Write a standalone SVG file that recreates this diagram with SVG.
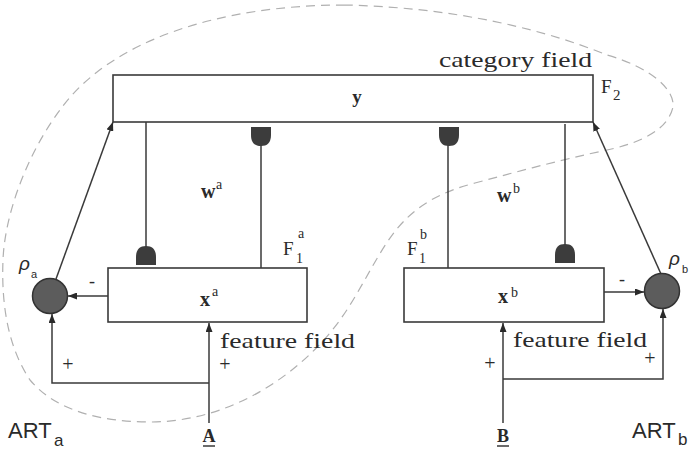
<svg xmlns="http://www.w3.org/2000/svg" width="691" height="451" viewBox="0 0 691 451">
<style>
.ln{stroke:#3a3a3a;stroke-width:1.5;fill:none}
.box{stroke:#3a3a3a;stroke-width:1.6;fill:#fff}
.t{font-family:"Liberation Serif","Times New Roman",serif;fill:#2a2a2a}
.b{font-weight:bold}
.s{font-family:"Liberation Sans",Arial,sans-serif;fill:#2a2a2a}
.dome{fill:#3c3c3c}
.node{fill:#5c5c5c;stroke:#333;stroke-width:1.5}
.dash{fill:none;stroke:#b0b0b0;stroke-width:1.2;stroke-dasharray:9 6}
</style>
<defs>
<marker id="arr" markerUnits="userSpaceOnUse" markerWidth="9" markerHeight="7" refX="9" refY="3.5" orient="auto">
<path d="M0,0 L9,3.5 L0,7 z" fill="#2a2a2a"/>
</marker>
<path id="dome" d="M-10,0 V-8 C-10,-16 -6,-19 0,-19 C6,-19 10,-16 10,-8 V0 Z"/>
</defs>
<path class="dash" d="M345,5 C220,5 110,40 60,110 C30,150 5,210 3,260 C1,310 10,350 30,380 C55,410 100,422 150,422 C230,422 300,375 340,320 C365,285 380,245 405,220 C420,205 440,192 475,183 C520,171 560,160 607,150 C640,143 668,130 673,107 C675,90 652,68 607,55 C570,40 480,8 345,5 Z"/>
<g id="connectors">
<path class="ln" d="M209,423 V323" marker-end="url(#arr)"/>
<path class="ln" d="M209,383 H52 V314" marker-end="url(#arr)"/>
<path class="ln" d="M503,423 V323" marker-end="url(#arr)"/>
<path class="ln" d="M503,379 H663 V309" marker-end="url(#arr)"/>
<path class="ln" d="M108,296 H68" marker-end="url(#arr)"/>
<path class="ln" d="M604,292 H644" marker-end="url(#arr)"/>
<path class="ln" d="M56,279 L113,122" marker-end="url(#arr)"/>
<path class="ln" d="M661,274 L593,122" marker-end="url(#arr)"/>
<path class="ln" d="M146,122 V247"/>
<path class="ln" d="M261,268 V145"/>
<path class="ln" d="M448,268 V145"/>
<path class="ln" d="M565,124 V245"/>
<use href="#dome" class="dome" transform="translate(146,265)"/>
<use href="#dome" class="dome" transform="translate(261,127) scale(1,-1)"/>
<use href="#dome" class="dome" transform="translate(449,127) scale(1,-1)"/>
<use href="#dome" class="dome" transform="translate(565,263)"/>
<text class="t" x="92" y="287" font-size="18" text-anchor="middle">-</text>
<text class="t" x="622" y="285" font-size="18" text-anchor="middle">-</text>
<text class="t" x="68" y="371" font-size="20" text-anchor="middle">+</text>
<text class="t" x="225" y="371" font-size="20" text-anchor="middle">+</text>
<text class="t" x="490" y="370" font-size="20" text-anchor="middle">+</text>
<text class="t" x="650" y="365" font-size="20" text-anchor="middle">+</text>
<text class="t b" x="201" y="198" font-size="20">w</text>
<text class="t" x="216" y="189" font-size="14">a</text>
<text class="t b" x="497" y="202" font-size="20">w</text>
<text class="t" x="513" y="193" font-size="14">b</text>
</g>
<g id="F2">
<rect class="box" x="113" y="75" width="480" height="47"/>
<text class="t b" x="357" y="103" font-size="19" text-anchor="middle">y</text>
<text class="t" x="439" y="67" font-size="22" textLength="153" lengthAdjust="spacingAndGlyphs">category field</text>
<text class="t" x="601" y="93" font-size="19">F</text>
<text class="t" x="613" y="100" font-size="15">2</text>
</g>
<g id="F1a">
<rect class="box" x="108" y="268" width="199" height="54"/>
<text class="t b" x="200" y="306" font-size="20">x</text>
<text class="t" x="212" y="296" font-size="14">a</text>
<text class="t" x="283" y="255" font-size="19">F</text>
<text class="t" x="296" y="263" font-size="14">1</text>
<text class="t" x="298" y="238" font-size="14">a</text>
<text class="t" x="220" y="348" font-size="22" textLength="135" lengthAdjust="spacingAndGlyphs">feature field</text>
</g>
<g id="F1b">
<rect class="box" x="404" y="268" width="200" height="54"/>
<text class="t b" x="498" y="303" font-size="20">x</text>
<text class="t" x="511" y="297" font-size="14">b</text>
<text class="t" x="407" y="255" font-size="19">F</text>
<text class="t" x="419" y="263" font-size="14">1</text>
<text class="t" x="420" y="239" font-size="14">b</text>
<text class="t" x="513" y="347" font-size="22" textLength="134" lengthAdjust="spacingAndGlyphs">feature field</text>
</g>
<g id="rho_a">
<circle class="node" cx="50" cy="296" r="17.5"/>
<text class="s" x="19" y="270" font-size="19" font-style="italic">ρ</text>
<text class="s" x="31" y="278" font-size="11">a</text>
</g>
<g id="rho_b">
<circle class="node" cx="662" cy="291" r="17.5"/>
<text class="s" x="669" y="265" font-size="19" font-style="italic">ρ</text>
<text class="s" x="682" y="273" font-size="11">b</text>
</g>
<g id="inputA">
<text class="t b" x="209" y="442" font-size="18" text-anchor="middle">A</text>
<path class="ln" d="M203,446 H215" stroke-width="1.2"/>
</g>
<g id="inputB">
<text class="t b" x="503" y="442" font-size="18" text-anchor="middle">B</text>
<path class="ln" d="M497,446 H509" stroke-width="1.2"/>
</g>
<g id="ARTa">
<text class="s" x="8" y="438" font-size="22">ART</text>
<text class="s" x="54" y="446" font-size="17">a</text>
</g>
<g id="ARTb">
<text class="s" x="632" y="438" font-size="22">ART</text>
<text class="s" x="678" y="445" font-size="17">b</text>
</g>
</svg>
